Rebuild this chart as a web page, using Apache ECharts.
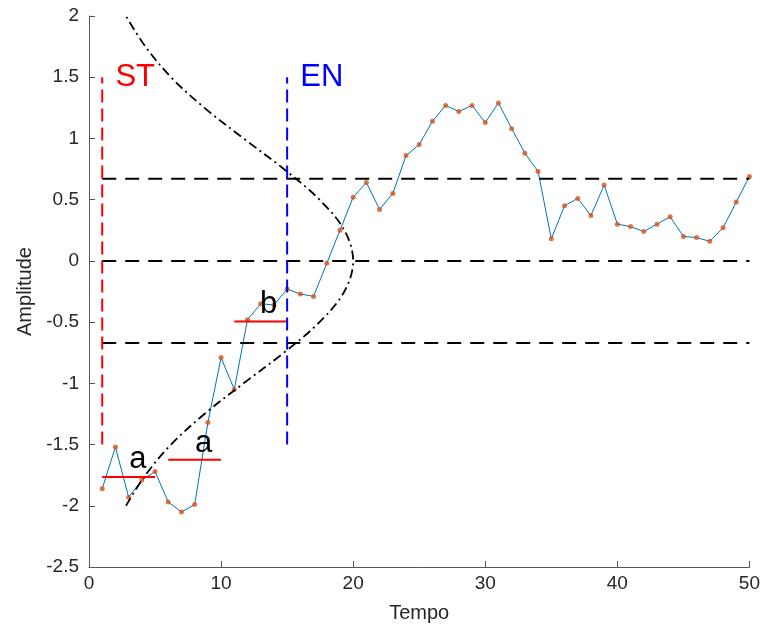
<!DOCTYPE html>
<html>
<head>
<meta charset="utf-8">
<script src="https://cdn.jsdelivr.net/npm/echarts@6/dist/echarts.min.js"></script>
<style>
  html, body { margin: 0; padding: 0; background: #fff; }
  #chart { width: 763px; height: 628px; }
</style>
</head>
<body>
<div id="chart"></div>
<script>
// Time series sampled at t = 1..50
const tempo = [1,2,3,4,5,6,7,8,9,10,11,12,13,14,15,16,17,18,19,20,21,22,23,24,25,
               26,27,28,29,30,31,32,33,34,35,36,37,38,39,40,41,42,43,44,45,46,47,48,49,50];
const amplitude = [-1.86,-1.52,-1.93,-1.79,-1.72,-1.97,-2.05,-1.99,-1.32,-0.79,
                   -1.05,-0.48,-0.35,-0.36,-0.23,-0.27,-0.29,-0.02,0.25,0.52,
                   0.64,0.42,0.55,0.86,0.95,1.14,1.27,1.22,1.27,1.13,
                   1.29,1.08,0.88,0.73,0.18,0.45,0.51,0.37,0.62,0.30,
                   0.28,0.24,0.30,0.36,0.20,0.19,0.16,0.27,0.48,0.69];

// Breakpoints of the symbol alphabet
const breakpoints = [-0.67, 0, 0.67];
const breakStart = 1, breakEnd = 50;

// Segment means (start, end, level, symbol)
const segStart = [1, 6, 11];
const segEnd   = [5, 10, 15];
const segLevel = [-1.764, -1.624, -0.494];
const segSymbol = ['a', 'a', 'b'];
const symbolPosX = [3.05, 8.03, 12.95];
const symbolPosY = [-1.62, -1.49, -0.355];

// Window markers
const stX = 1, enX = 15;
const markerLow = -1.5, markerHigh = 1.5;

// Bell curve drawn sideways (amplitude on y, spread on x)
const bellY = [-2, -1.75, -1.5, -1.25, -1, -0.75, -0.5, -0.25, 0, 0.25, 0.5, 0.75, 1, 1.25, 1.5, 1.75, 2];
const bellX = [2.8, 4.27, 6.21, 8.74, 11.7, 14.75, 17.45, 19.33, 20, 19.33, 17.45, 14.75, 11.7, 8.74, 6.21, 4.27, 2.8];

// Axis ticks
const xMin = 0, xMax = 50, xStep = 10;
const yMin = -2.5, yMax = 2, yStep = 0.5;

const FONT = '"Liberation Sans", Arial, Helvetica, sans-serif';

const chart = echarts.init(document.getElementById('chart'), null, { renderer: 'canvas' });

const series = [];

// main trace
series.push({
  type: 'line',
  data: tempo.map((t, i) => [t, amplitude[i]]),
  showSymbol: false,
  lineStyle: { color: '#0072BD', width: 1 },
  z: 2,
  silent: true
});
series.push({
  type: 'scatter',
  data: tempo.map((t, i) => [t, amplitude[i]]),
  symbol: 'circle',
  symbolSize: 5,
  itemStyle: { color: '#D95319' },
  z: 3,
  silent: true
});

// breakpoint lines
breakpoints.forEach(b => {
  series.push({
    type: 'line',
    data: [[breakStart, b], [breakEnd, b]],
    showSymbol: false,
    lineStyle: { color: '#000', width: 2, type: [14, 9] },
    z: 4,
    silent: true
  });
});

// bell curve
series.push({
  type: 'line',
  data: bellX.map((x, i) => [x, bellY[i]]),
  showSymbol: false,
  smooth: 0.35,
  lineStyle: { color: '#000', width: 1.8, type: [9, 4, 2, 4] },
  z: 5,
  silent: true
});

// segment levels
segStart.forEach((s, i) => {
  series.push({
    type: 'line',
    data: [[s, segLevel[i]], [segEnd[i], segLevel[i]]],
    showSymbol: false,
    lineStyle: { color: '#FF0000', width: 2 },
    z: 6,
    silent: true
  });
});

// ST / EN vertical markers
series.push({
  type: 'line',
  data: [[stX, markerLow], [stX, markerHigh]],
  showSymbol: false,
  lineStyle: { color: '#FF0000', width: 2, type: [13, 6] },
  z: 6,
  silent: true
});
series.push({
  type: 'line',
  data: [[enX, markerLow], [enX, markerHigh]],
  showSymbol: false,
  lineStyle: { color: '#0000FF', width: 2, type: [13, 6] },
  z: 6,
  silent: true
});

const axisCommon = {
  axisLine: { show: true, onZero: false, lineStyle: { color: '#555', width: 1 } },
  axisTick: { show: true, inside: true, length: 6, lineStyle: { color: '#555', width: 1 } },
  splitLine: { show: false },
  nameTextStyle: { color: '#262626', fontSize: 20, fontFamily: FONT }
};

chart.setOption({
  animation: false,
  backgroundColor: '#fff',
  grid: { left: 89, right: 11, top: 16, bottom: 60, containLabel: false },
  xAxis: Object.assign({
    type: 'value', min: xMin, max: xMax, interval: xStep,
    name: 'Tempo', nameLocation: 'middle', nameGap: 36
  }, axisCommon, { axisLabel: { color: '#262626', fontSize: 19, fontFamily: FONT, margin: 7 } }),
  yAxis: Object.assign({
    type: 'value', min: yMin, max: yMax, interval: yStep,
    name: 'Amplitude', nameLocation: 'middle', nameGap: 50
  }, axisCommon, { axisLabel: { color: '#262626', fontSize: 19, fontFamily: FONT, margin: 10 } }),
  series: series
});

// text annotations placed in data coordinates
function place() {
  const items = [];
  const addText = (x, y, text, color) => {
    const p = chart.convertToPixel({ gridIndex: 0 }, [x, y]);
    items.push({
      type: 'text', x: p[0], y: p[1], z: 100, silent: true,
      style: { text: text, fill: color, font: '31px ' + FONT, textAlign: 'left', textVerticalAlign: 'middle' }
    });
  };
  addText(2.0, 1.5, 'ST', '#FF0000');
  addText(16.0, 1.5, 'EN', '#0000FF');
  segSymbol.forEach((s, i) => addText(symbolPosX[i], symbolPosY[i], s, '#000'));
  chart.setOption({ graphic: items });
}
place();
</script>
</body>
</html>
